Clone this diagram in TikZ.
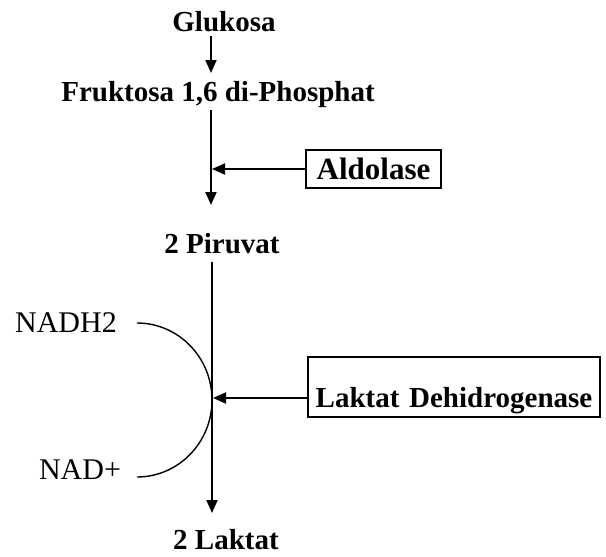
\documentclass[tikz,border=0pt]{standalone}
\usepackage{fontspec}
\setmainfont{Liberation Serif}
\usetikzlibrary{arrows.meta}
\newcommand{\fsz}[1]{\fontsize{#1}{#1}\selectfont}
\begin{document}
\begin{tikzpicture}[x=1pt,y=-1pt,
  lbl/.style={inner sep=0pt, font=\bfseries\fsz{29}},
  side/.style={inner sep=0pt, font=\fsz{30}},
  flow/.style={line width=1.8pt, -{Triangle[width=11pt,length=13pt]}},
  enz/.style={draw, line width=2.2pt, inner sep=0pt}]
\useasboundingbox (0,0) rectangle (606,557);
\node[lbl] (glu) at (224,22) {Glukosa};
\node[lbl] (fru) at (218,95) {Fruktosa 1,6 di-Phosphat};
\node[lbl] (pir) at (222,244) {2 Piruvat};
\node[lbl] (lak) at (226,540) {2 Laktat};
\node[side] (nadh) at (66,323) {NADH2};
\node[side] (nad) at (80,470) {NAD+};
\node[enz, font=\bfseries\fsz{31}, minimum width=135pt, minimum height=38pt] (ald) at (373.5,169) {Aldolase};
\node[enz, font=\bfseries\fsz{29}, anchor=base, text width=292pt, align=center, text height=50pt, text depth=10pt] (ldh) at (454,407) {Laktat Dehidrogenase};
\coordinate (s1) at (211,36);
\coordinate (e1) at (211,73);
\coordinate (s2) at (211,110);
\coordinate (e2) at (211,205);
\coordinate (j1) at (212,169);
\coordinate (s3) at (212,262);
\coordinate (e3) at (212,513);
\coordinate (j2) at (213,398);
\coordinate (a1) at (137,323);
\draw[flow] (s1) -- (e1);
\draw[flow] (s2) -- (e2);
\draw[flow] (ald.west) -- (j1);
\draw[flow] (s3) -- (e3);
\draw[flow] (ldh.west |- j2) -- (j2);
\draw[line width=1.4pt] (a1) arc[start angle=-90, end angle=90, x radius=75, y radius=77];
\end{tikzpicture}
\end{document}
